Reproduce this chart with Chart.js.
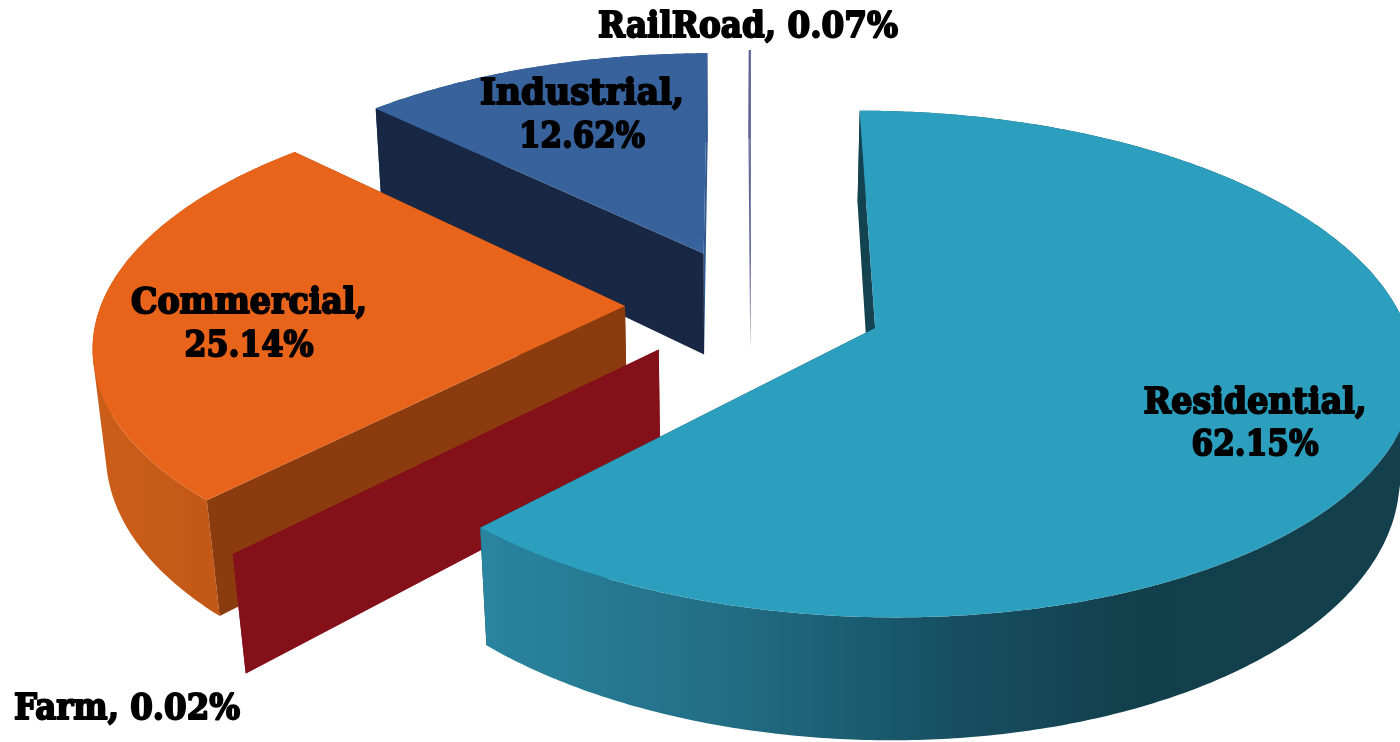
<!DOCTYPE html>
<html>
<head>
<meta charset="utf-8">
<title>Electricity use by customer class</title>
<script src="https://cdn.jsdelivr.net/npm/chart.js@4"></script>
<style>
  html, body { margin: 0; padding: 0; background: #fff; overflow: hidden; }
  canvas { display: block; }
</style>
</head>
<body>
<canvas id="share-chart" width="1400" height="742"></canvas>
<script>
// Chart data
const categories = ['Residential', 'Farm', 'Commercial', 'Industrial', 'RailRoad'];
const shareValues = [62.15, 0.02, 25.14, 12.62, 0.07];

// Slice styling, same order as categories
const explodeOffsets = [132, 130, 126, 125, 125];
const topColors = ['#2c9fbf', '#84101a', '#e8641a', '#37629b', '#5d6499'];
const startFaceColors = ['#134250', '#84101a', '#8b3b0e', '#172744', '#5d6499'];
const endFaceColors = ['#134250', '#84101a', '#8b3b0e', '#30598f', '#4a4d6e'];
const wallStops = [
  [[0, '#2a85a0'], [0.25, '#226f86'], [0.5, '#175062'], [0.7, '#123f4c'], [1, '#14404e']],
  [[0, '#84101a'], [1, '#84101a']],
  [[0, '#cb5e19'], [1, '#bd5315']],
  [[0, '#30598f'], [1, '#30598f']],
  [[0, '#5d6499'], [1, '#5d6499']]
];

// Back slices get painted first so the nearer ones cover them
const paintOrder = [4, 3, 2, 1, 0];

// Label anchors: centre x, middle y of each line, width of each line
const labelAnchors = [
  { x: 1255, lines: [404, 446], widths: [225, 129] },
  { x: 127, lines: [710], widths: [228] },
  { x: 249, lines: [304, 347], widths: [238, 131] },
  { x: 582, lines: [95, 138], widths: [206, 128] },
  { x: 748, lines: [28], widths: [302] }
];

// Perspective settings for the tilted disc
const TILT = 0.4613;
const DEPTH_FALLOFF = 0.000268;
const WALL_HEIGHT = 104;
const VANISH_X = 725;
const CONVERGE = 0.02;

// Map a point on the disc plane to the screen, optionally on the underside
function project(center, u, v, lowered) {
  const s = 1 / (1 - DEPTH_FALLOFF * v);
  let x = center.x + u * s;
  let y = center.y + TILT * v * s;
  if (lowered) {
    y += WALL_HEIGHT * s;
    x += (VANISH_X - x) * CONVERGE * s * s;
  }
  return { x: x, y: y };
}

function addPolygon(ctx, points) {
  points.forEach((p, i) => {
    if (i === 0) ctx.moveTo(p.x, p.y);
    else ctx.lineTo(p.x, p.y);
  });
  ctx.closePath();
}

function tracePolygon(ctx, points) {
  ctx.beginPath();
  addPolygon(ctx, points);
}

// Signed area, used to wind every wall strip the same way
function signedArea(points) {
  let sum = 0;
  points.forEach((p, i) => {
    const q = points[(i + 1) % points.length];
    sum += p.x * q.y - q.x * p.y;
  });
  return sum / 2;
}

// Paint one exploded slice: hidden faces, outer wall, visible faces, then the top
function drawSlice(ctx, arc, index) {
  const center = { x: arc.x, y: arc.y };
  const mid = (arc.startAngle + arc.endAngle) / 2;
  const offset = arc.options.offset;
  const apexU = Math.cos(mid) * offset;
  const apexV = Math.sin(mid) * offset;
  const radius = arc.outerRadius;

  const rimTop = [];
  const rimBottom = [];
  const steps = Math.max(2, Math.ceil((arc.endAngle - arc.startAngle) / 0.01));
  for (let i = 0; i <= steps; i++) {
    const a = arc.startAngle + (arc.endAngle - arc.startAngle) * i / steps;
    const u = apexU + Math.cos(a) * radius;
    const v = apexV + Math.sin(a) * radius;
    rimTop.push(project(center, u, v, false));
    rimBottom.push(project(center, u, v, true));
  }

  const apexTop = project(center, apexU, apexV, false);
  const apexBottom = project(center, apexU, apexV, true);

  const fillFace = (rim, color) => {
    tracePolygon(ctx, [apexTop, rimTop[rim], rimBottom[rim], apexBottom]);
    ctx.fillStyle = color;
    ctx.fill();
  };

  // A cut face looks toward the viewer depending on which way its edge runs
  const startVisible = Math.cos(arc.startAngle) <= 0.001;
  const endVisible = Math.cos(arc.endAngle) >= -0.001;

  if (!startVisible) fillFace(0, startFaceColors[index]);
  if (!endVisible) fillFace(steps, endFaceColors[index]);

  // Outer wall: one path of equally wound strips, so the curve's sides are swept without seams
  const xs = rimTop.concat(rimBottom).map(p => p.x);
  const wallFill = ctx.createLinearGradient(Math.min(...xs), 0, Math.max(...xs), 0);
  wallStops[index].forEach(stop => wallFill.addColorStop(stop[0], stop[1]));
  ctx.beginPath();
  for (let i = 0; i < steps; i++) {
    const strip = [rimTop[i], rimTop[i + 1], rimBottom[i + 1], rimBottom[i]];
    addPolygon(ctx, signedArea(strip) < 0 ? strip.reverse() : strip);
  }
  ctx.fillStyle = wallFill;
  ctx.fill();

  if (startVisible) fillFace(0, startFaceColors[index]);
  if (endVisible) fillFace(steps, endFaceColors[index]);

  // Top surface
  tracePolygon(ctx, [apexTop].concat(rimTop));
  ctx.fillStyle = arc.options.backgroundColor;
  ctx.fill();
}

function drawLabels(ctx) {
  ctx.save();
  ctx.font = 'bold 35px "DejaVu Serif"';
  ctx.textAlign = 'center';
  ctx.textBaseline = 'middle';
  ctx.fillStyle = '#000';
  ctx.strokeStyle = '#000';
  ctx.lineWidth = 2;
  ctx.lineJoin = 'round';
  categories.forEach((name, i) => {
    const anchor = labelAnchors[i];
    const value = shareValues[i].toFixed(2) + '%';
    const rows = anchor.lines.length === 2 ? [name + ',', value] : [name + ', ' + value];
    rows.forEach((row, r) => {
      ctx.strokeText(row, anchor.x, anchor.lines[r], anchor.widths[r] - 2);
      ctx.fillText(row, anchor.x, anchor.lines[r], anchor.widths[r] - 2);
    });
  });
  ctx.restore();
}

// Replaces the flat arcs with tilted ones, using the angles the controller worked out
const tiltedPiePlugin = {
  id: 'tiltedPie',
  beforeDatasetsDraw(chart) {
    const ctx = chart.ctx;
    const arcs = chart.getDatasetMeta(0).data;
    ctx.save();
    paintOrder.forEach(i => drawSlice(ctx, arcs[i], i));
    ctx.restore();
    drawLabels(ctx);
    return false;
  }
};

new Chart(document.getElementById('share-chart'), {
  type: 'pie',
  data: {
    labels: categories,
    datasets: [{
      data: shareValues,
      backgroundColor: topColors,
      borderWidth: 0,
      offset: explodeOffsets,
      hoverOffset: 0
    }]
  },
  options: {
    responsive: false,
    animation: false,
    radius: 524,
    layout: { padding: { left: 102, bottom: 132 } },
    plugins: {
      legend: { display: false },
      tooltip: { enabled: false }
    }
  },
  plugins: [tiltedPiePlugin]
});
</script>
</body>
</html>
